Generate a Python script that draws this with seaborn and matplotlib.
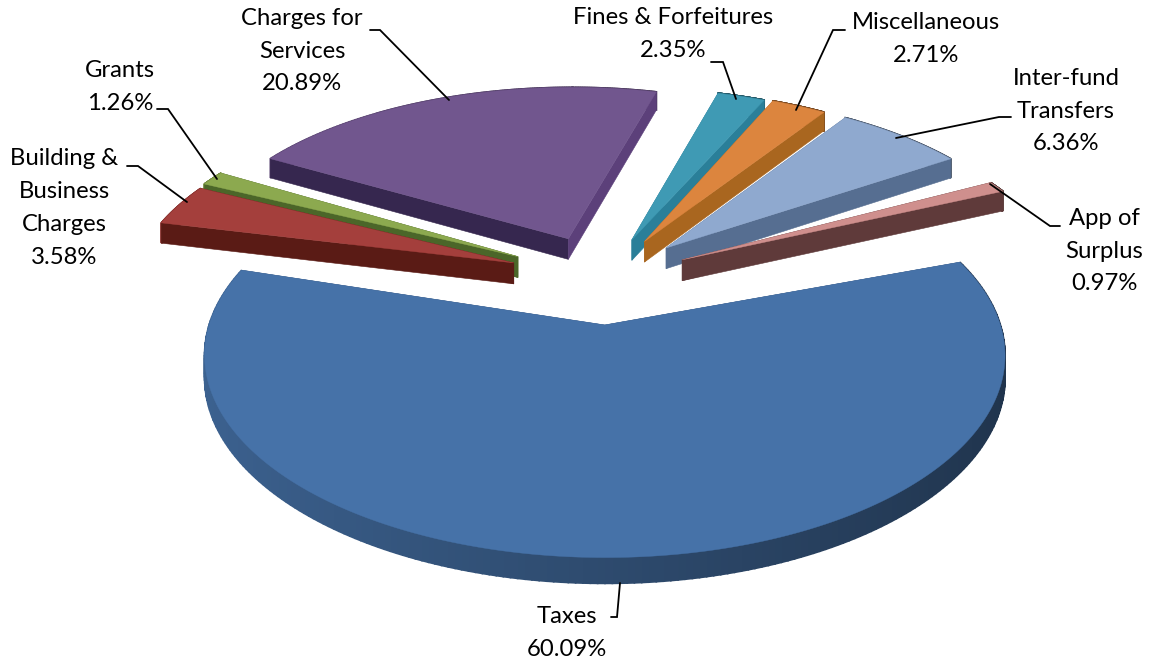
import numpy as np
import matplotlib
matplotlib.use("Agg")
import matplotlib.pyplot as plt
from matplotlib.colors import to_rgb
import seaborn as sns

# Revenue shares, clockwise from the large front slice
categories = ["Taxes", "Building &\nBusiness\nCharges", "Grants", "Charges for\nServices",
              "Fines & Forfeitures", "Miscellaneous", "Inter-fund\nTransfers", "App of\nSurplus"]
shares = [60.09, 3.58, 1.26, 20.89, 2.35, 2.71, 6.36, 0.97]

top_colors = ["#4672A8", "#A43F3C", "#8CA94F", "#71568E", "#3F9AB4", "#DC853E", "#8FA9CF", "#CF8F8D"]
start_wall_colors = ["#2F4F7A", "#5A1B15", "#4B6629", "#36274F", "#2A7F99", "#A9661F", "#566E91", "#5F3A3A"]
end_wall_colors = ["#2F4F7A", "#5A1B15", "#4B6629", "#5C407A", "#2A7F99", "#A9661F", "#566E91", "#5F3A3A"]
palette = sns.color_palette(top_colors)

# Outer-edge shading of the front rim at its left and right ends
RIM_SHADE = (0.86, 0.45)

# Perspective of the tilted disc, in output pixels
ANCHOR = (602.5, 326.0)
SCALE_X, SCALE_Y, PERSPECTIVE = 396.0, 198.0, 0.15
PIE_CENTRE = (0.0, 0.25)
THICKNESS = 22.0
START_ANGLE = 16.5

# Pull-out distance and extra turn of each slice
explode = [0.245, 0.25, 0.255, 0.24, 0.23, 0.235, 0.24, 0.235]
turn = [3.0, 6.5, 7.0, 7.5, 6.5, 7.0, 6.8, 1.0]

label_centres = [(567, 633), (64, 208), (120, 87), (302, 51), (673, 34), (926, 39), (1066, 111), (1104, 251)]
leaders = [
    [(611, 617), (617, 617), (620, 583)],
    [(127, 166), (138, 166), (187, 202)],
    [(157, 109), (168, 109), (217, 179)],
    [(370, 30), (380, 30), (449, 100)],
    [(711, 62), (723, 62), (736, 99)],
    [(845, 30), (833, 30), (796, 110)],
    [(1011, 117), (999, 117), (896, 138)],
    [(1060, 226), (1050, 226), (990, 184)],
]
draw_order = [3, 4, 5, 6, 7, 2, 1, 0]


def project(x, y):
    """Ground-plane coordinates to pixels, plus the wall height at that depth."""
    w = 1 + PERSPECTIVE * y
    return ANCHOR[0] + SCALE_X * x / w, ANCHOR[1] - SCALE_Y * y / w, THICKNESS / w


def slice_spans(values, offsets):
    """Clockwise angular span of each slice, in degrees."""
    edges = START_ANGLE - 3.6 * np.r_[0, np.cumsum(values)]
    return [(a + d, b + d) for a, b, d in zip(edges[:-1], edges[1:], offsets)]


sns.set_theme(style="white")
plt.rcParams["font.family"] = ["Lato", "DejaVu Sans"]

fig = plt.figure(figsize=(11.53, 6.61), dpi=100)
ax = fig.add_axes([0, 0, 1, 1])
ax.set_xlim(0, 1153)
ax.set_ylim(661, 0)
ax.axis("off")

spans = slice_spans(shares, turn)
for i in draw_order:
    start, end = spans[i]
    layer = draw_order.index(i) * 2
    mid = np.radians((start + end) / 2)
    ox = PIE_CENTRE[0] + explode[i] * np.cos(mid)
    oy = PIE_CENTRE[1] + explode[i] * np.sin(mid)
    t = np.radians(np.linspace(start, end, 240))
    rim_x, rim_y, rim_h = project(ox + np.cos(t), oy + np.sin(t))
    apex_x, apex_y, apex_h = project(ox, oy)
    color = to_rgb(palette[i])

    # Curved outer wall, shaded progressively along the arc
    for j in range(len(t) - 1):
        frac = np.clip(1 - ((np.cos(t[j]) + 1) / 2), 0, 1)
        shade = RIM_SHADE[1] + (RIM_SHADE[0] - RIM_SHADE[1]) * frac
        ax.fill([rim_x[j], rim_x[j + 1], rim_x[j + 1], rim_x[j]],
                [rim_y[j], rim_y[j + 1], rim_y[j + 1] + rim_h[j + 1], rim_y[j] + rim_h[j]],
                color=tuple(c * shade for c in color), lw=1.2, zorder=2 + layer)

    # Straight side walls running from the tip to each end of the arc
    for k, wall in ((0, start_wall_colors[i]), (-1, end_wall_colors[i])):
        ax.fill([apex_x, rim_x[k], rim_x[k], apex_x],
                [apex_y, rim_y[k], rim_y[k] + rim_h[k], apex_y + apex_h],
                color=wall, lw=0.4, zorder=2 + layer)

    # Top face
    ax.fill(np.r_[apex_x, rim_x], np.r_[apex_y, rim_y], color=color, lw=0.3, zorder=3 + layer)

for name, share, (cx, cy), line in zip(categories, shares, label_centres, leaders):
    xs, ys = zip(*line)
    ax.plot(xs, ys, color="black", lw=1.3, zorder=30, solid_joinstyle="miter")
    ax.text(cx, cy, f"{name}\n{share:.2f}%", ha="center", va="center", fontsize=17.2,
            linespacing=1.7, color="black", zorder=31)

fig.savefig("out.png", dpi=100, facecolor="white")
